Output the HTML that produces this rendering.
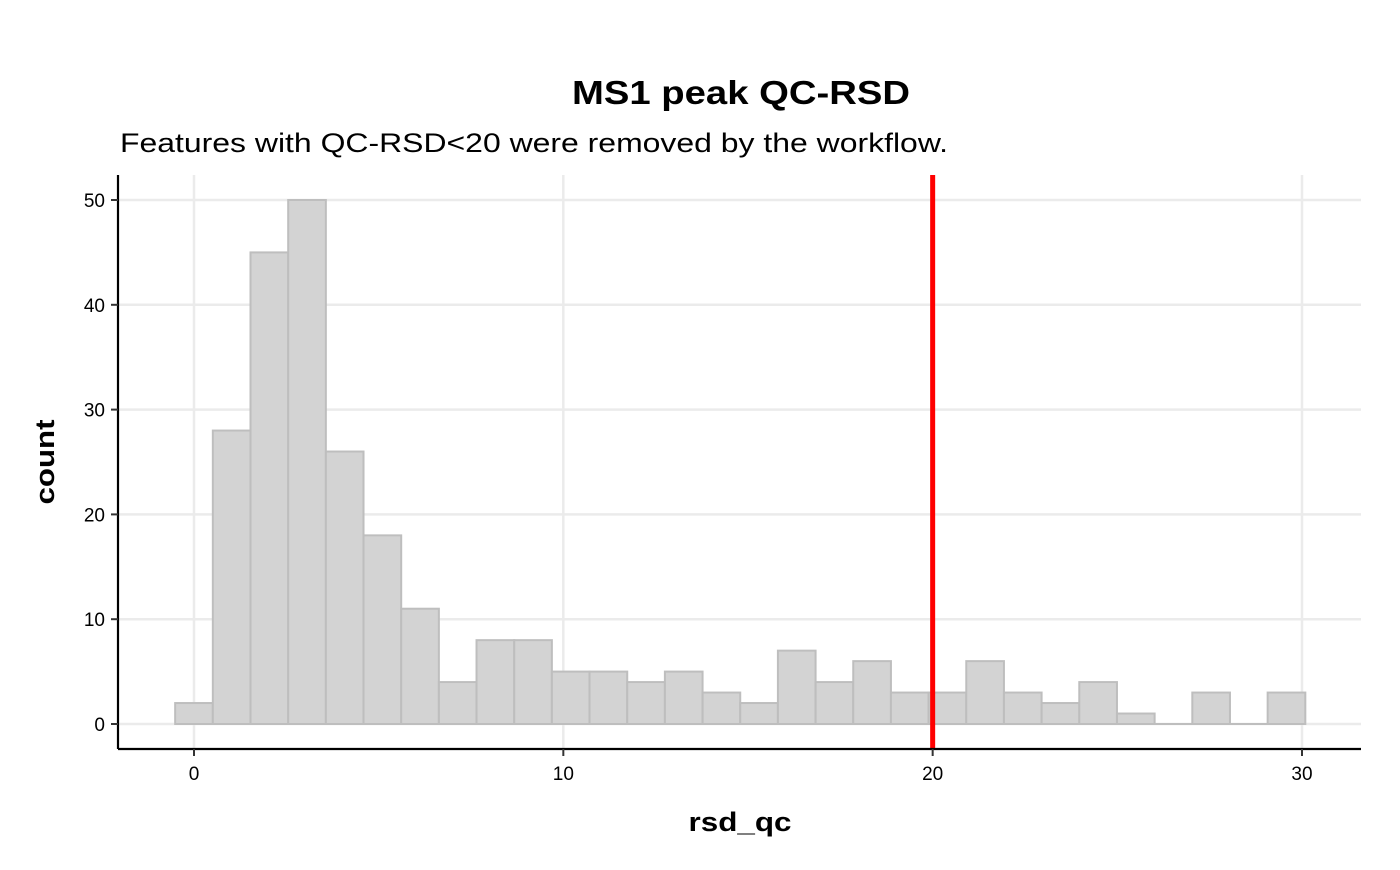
<!DOCTYPE html>
<html><head><meta charset="utf-8"><style>
body{margin:0;background:#fff;}
svg text{font-family:"Liberation Sans",Arial,sans-serif;}
</style></head><body>
<svg id="chart" width="1400" height="865">
<text x="741" y="104" text-anchor="middle" font-size="33" font-weight="bold" textLength="338" lengthAdjust="spacingAndGlyphs">MS1 peak QC-RSD</text>
<text x="120" y="152" font-size="27" textLength="828" lengthAdjust="spacingAndGlyphs">Features with QC-RSD&lt;20 were removed by the workflow.</text>
<g id="grid"></g><g id="bars"></g><g id="axes"></g>
<text x="740" y="831" text-anchor="middle" font-size="27" font-weight="bold" textLength="103" lengthAdjust="spacingAndGlyphs">rsd_qc</text>
<text transform="translate(54,462) rotate(-90)" text-anchor="middle" font-size="27" font-weight="bold" textLength="85" lengthAdjust="spacingAndGlyphs">count</text>
</svg>
<script>
const counts=[2,28,45,50,26,18,11,4,8,8,5,5,4,5,3,2,7,4,6,3,3,6,3,2,4,1,0,3,0,3];
const binStart=-0.51, binWidth=1.02;
const xTicks=[0,10,20,30];
const yTicks=[0,10,20,30,40,50];
const threshold=20;
const NS="http://www.w3.org/2000/svg";
const L=118,R=1361,T=175,B=749;
const xs=v=>194+v*36.933;
const ys=v=>724-v*10.48;
function mk(tag,attrs,parent){const e=document.createElementNS(NS,tag);for(const k in attrs)e.setAttribute(k,attrs[k]);parent.appendChild(e);return e;}
const grid=document.getElementById('grid'),bars=document.getElementById('bars'),axes=document.getElementById('axes');
xTicks.forEach(v=>{const l=mk('line',{x1:xs(v),x2:xs(v),y1:T,y2:B,stroke:'#ebebeb','stroke-width':2.5},grid);});
yTicks.forEach(v=>{const l=mk('line',{x1:L,x2:R,y1:ys(v),y2:ys(v),stroke:'#ebebeb','stroke-width':2.5},grid);});
counts.forEach((c,i)=>{const x0=xs(binStart+i*binWidth),x1=xs(binStart+(i+1)*binWidth);
if(c>0){
const r=mk('rect',{x:x0,y:ys(c),width:x1-x0,height:ys(0)-ys(c),fill:'#d3d3d3',stroke:'#bebebe','stroke-width':2},bars);

}else{
const r=mk('line',{x1:x0,x2:x1,y1:ys(0),y2:ys(0),stroke:'#bebebe','stroke-width':2},bars);

}});
const th=mk('line',{x1:xs(threshold),x2:xs(threshold),y1:T,y2:B,stroke:'#ff0000','stroke-width':5},bars);

const xa=mk('line',{x1:L,x2:R,y1:B,y2:B,stroke:'#000','stroke-width':2.2},axes);
const ya=mk('line',{x1:L,x2:L,y1:T,y2:B,stroke:'#000','stroke-width':2.2},axes);
xTicks.forEach(v=>{const t=mk('line',{x1:xs(v),x2:xs(v),y1:B,y2:B+7,stroke:'#333','stroke-width':2},axes);
const tx=mk('text',{x:xs(v),y:B+31,'text-anchor':'middle','font-size':19,fill:'#000'},axes);tx.textContent=v;});
yTicks.forEach(v=>{const t=mk('line',{x1:L-7,x2:L,y1:ys(v),y2:ys(v),stroke:'#333','stroke-width':2},axes);
const tx=mk('text',{x:L-13,y:ys(v)+7,'text-anchor':'end','font-size':19,fill:'#000'},axes);tx.textContent=v;});
</script>
</body></html>
